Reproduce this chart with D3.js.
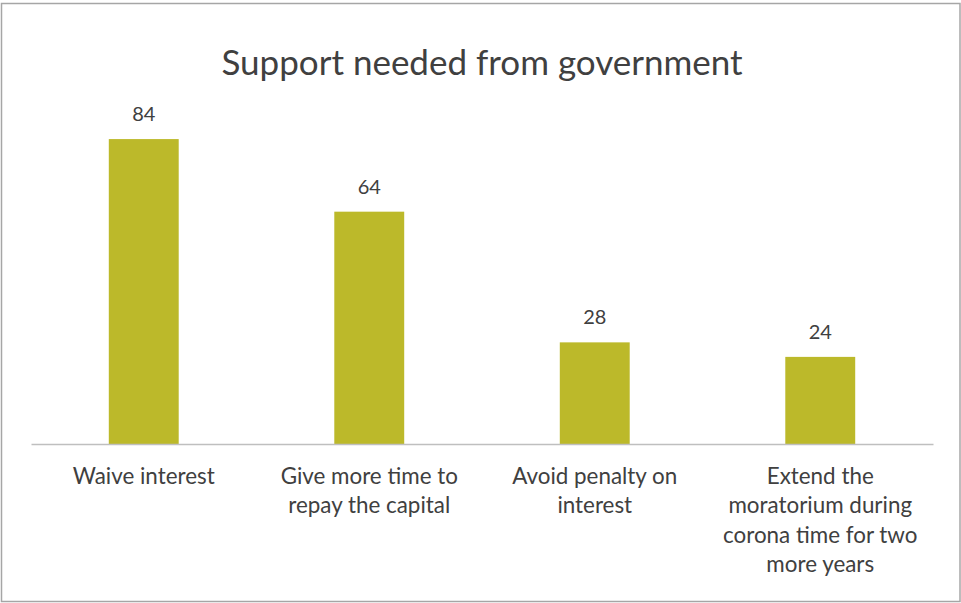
<!DOCTYPE html>
<html>
<head>
<meta charset="utf-8">
<script src="https://cdn.jsdelivr.net/npm/d3@7"></script>
<style>
  html, body { margin: 0; padding: 0; background: #fff; }
  svg { display: block; font-family: Lato, "Open Sans", sans-serif; }
</style>
</head>
<body>
<svg id="chart" width="961" height="603"></svg>
<script>
// Survey responses: support needed from government
const categories = [
  "Waive interest",
  "Give more time to repay the capital",
  "Avoid penalty on interest",
  "Extend the moratorium during corona time for two more years"
];
const labelLines = [
  ["Waive interest"],
  ["Give more time to", "repay the capital"],
  ["Avoid penalty on", "interest"],
  ["Extend the", "moratorium during", "corona time for two", "more years"]
];
const values = [84, 64, 28, 24];
const title = "Support needed from government";

const svg = d3.select("#chart");
const W = 961, H = 603;
const textColor = "#404040";
const barColor = "#bcb92a";

// chart border
svg.append("rect")
  .attr("x", 1.5).attr("y", 3.5)
  .attr("width", W - 2.5).attr("height", H - 5)
  .attr("fill", "#fff")
  .attr("stroke", "#a6a6a6")
  .attr("stroke-width", 1.5);

const x = d3.scaleBand()
  .domain(categories)
  .range([31, 933])
  .paddingInner(0.69)
  .paddingOuter(0.345);

const y = d3.scaleLinear()
  .domain([0, 100])
  .range([444, 81]);

// title
svg.append("text")
  .attr("x", 482).attr("y", 75)
  .attr("text-anchor", "middle")
  .attr("fill", textColor)
  .style("font-size", "35px")
  .text(title);

// bars
svg.append("g").selectAll("rect")
  .data(values)
  .join("rect")
  .attr("x", (d, i) => x(categories[i]))
  .attr("y", d => y(d))
  .attr("width", x.bandwidth())
  .attr("height", d => y(0) - y(d))
  .attr("fill", barColor);

// value labels
svg.append("g").selectAll("text")
  .data(values)
  .join("text")
  .attr("x", (d, i) => x(categories[i]) + x.bandwidth() / 2)
  .attr("y", d => y(d) - 18)
  .attr("text-anchor", "middle")
  .attr("fill", textColor)
  .style("font-size", "20px")
  .text(d => d);

// category axis
const axis = svg.append("g")
  .attr("transform", `translate(0,${y(0)})`)
  .call(d3.axisBottom(x).tickSize(0).tickFormat(""));
axis.select(".domain").attr("stroke", "#bfbfbf").attr("stroke-width", 1.5);

// wrapped category labels
const labels = svg.append("g").selectAll("text")
  .data(categories)
  .join("text")
  .attr("text-anchor", "middle")
  .attr("fill", textColor)
  .style("font-size", "22.4px");
labels.each(function (c, i) {
  const t = d3.select(this);
  labelLines[i].forEach((line, j) => {
    t.append("tspan")
      .attr("x", x(c) + x.bandwidth() / 2)
      .attr("y", 484 + j * 29.3)
      .text(line);
  });
});
</script>
</body>
</html>
